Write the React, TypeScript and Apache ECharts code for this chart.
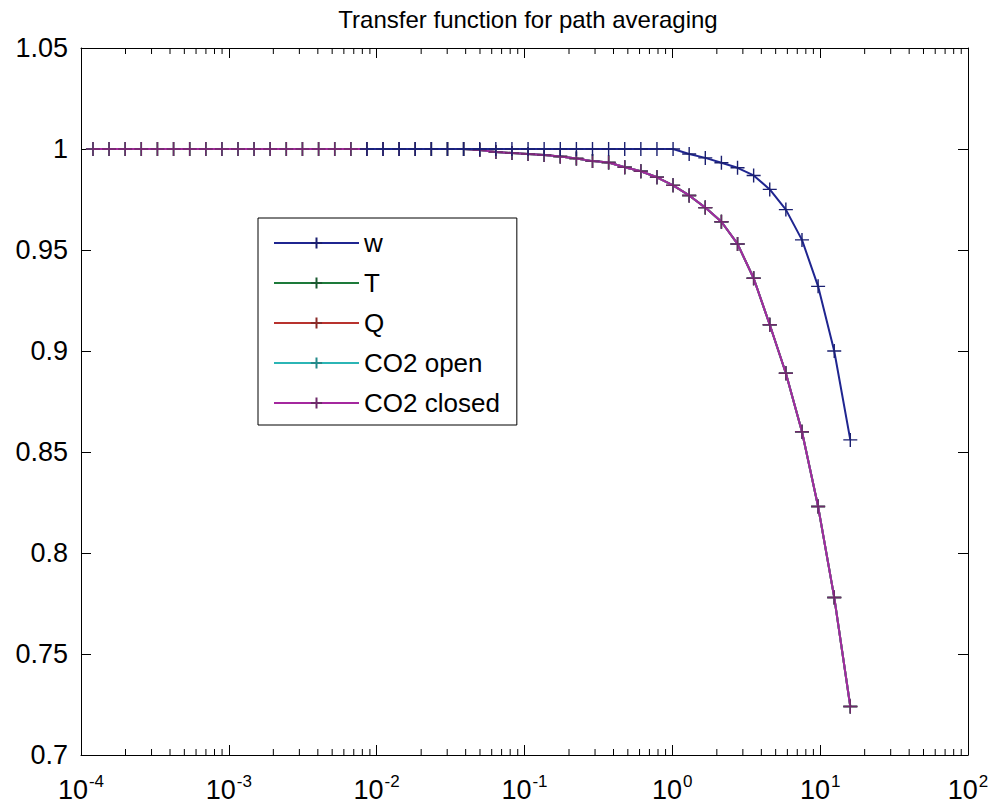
import React, { useEffect, useRef } from "react";
import * as echarts from "echarts";

const freqs = [
  0.0001205, 0.0001549, 0.0001991, 0.0002559, 0.0003289, 0.0004227, 0.0005433, 0.0006982,
  0.0008974, 0.001153, 0.001483, 0.001905, 0.002449, 0.003148, 0.004046, 0.0052,
  0.006683, 0.00859, 0.01104, 0.01419, 0.01824, 0.02344, 0.03013, 0.03873,
  0.04977, 0.06397, 0.08222, 0.1057, 0.1358, 0.1746, 0.2244, 0.2884,
  0.3707, 0.4764, 0.6124, 0.787, 1.0116, 1.3, 1.671, 2.148,
  2.761, 3.548, 4.56, 5.861, 7.534, 9.683, 12.45, 15.99,
];

// w starts at the 18th frequency
const wStart = 17;
const wVals = [
  1, 1, 1, 1, 1, 1, 1, 1, 1, 1,
  1, 1, 1, 1, 1, 1, 1, 1, 1, 1,
  0.9975, 0.9956, 0.9932, 0.9907, 0.9869, 0.98, 0.97, 0.955, 0.932, 0.9, 0.856,
];

// CO2 closed (drawn on top; T, Q and CO2 open lie beneath it)
const closedVals = [
  1, 1, 1, 1, 1, 1, 1, 1, 1, 1, 1, 1,
  1, 1, 1, 1, 1, 1, 1, 1, 1, 1, 1, 1,
  0.9995, 0.9985, 0.998, 0.9975, 0.997, 0.9963, 0.9953, 0.994, 0.9933, 0.991, 0.989, 0.986,
  0.982, 0.977, 0.971, 0.964, 0.953, 0.936, 0.913, 0.889, 0.86, 0.823, 0.778, 0.724,
];
const tVals = closedVals;
const qVals = closedVals;
const openVals = closedVals;

const seriesNames = ["w", "T", "Q", "CO2 open", "CO2 closed"];
const seriesColors = ["#1f2590", "#1d7a3a", "#b8322e", "#2bb5b5", "#a4289e"];
const markerColors = ["#1a1f70", "#1a5a30", "#8a2a28", "#238a8a", "#6e2a6a"];

const yTicks = [0.7, 0.75, 0.8, 0.85, 0.9, 0.95, 1, 1.05];
const xMinorTicks = [
  2e-4, 3e-4, 4e-4, 5e-4, 6e-4, 7e-4, 8e-4, 9e-4,
  2e-3, 3e-3, 4e-3, 5e-3, 6e-3, 7e-3, 8e-3, 9e-3,
  2e-2, 3e-2, 4e-2, 5e-2, 6e-2, 7e-2, 8e-2, 9e-2,
  0.2, 0.3, 0.4, 0.5, 0.6, 0.7, 0.8, 0.9,
  2, 3, 4, 5, 6, 7, 8, 9,
  20, 30, 40, 50, 60, 70, 80, 90,
];

const FONT = "'Liberation Sans', Arial, Helvetica, sans-serif";
const PLUS = "path://M5,0V10M0,5H10";

export default function App() {
  const ref = useRef<HTMLDivElement>(null);

  useEffect(() => {
    if (!ref.current) return;
    const chart = echarts.init(ref.current, undefined, { renderer: "svg" });

    const wData = wVals.map((v, i) => [freqs[wStart + i], v]);
    const pairs = (vals: number[]) => vals.map((v, i) => [freqs[i], v]);
    const allData = [wData, pairs(tVals), pairs(qVals), pairs(openVals), pairs(closedVals)];

    const lineSeries = seriesNames.map((name, i) => ({
      name,
      type: "line",
      data: allData[i],
      xAxisIndex: 0,
      yAxisIndex: 0,
      symbol: PLUS,
      symbolSize: 14,
      showAllSymbol: true,
      z: i === 0 ? 6 : 2 + i * 0.1,
      lineStyle: { color: seriesColors[i], width: 2 },
      itemStyle: { color: seriesColors[i], borderColor: markerColors[i], borderWidth: 1.4 },
      emphasis: { disabled: true },
    }));

    const yMin = yTicks[0];
    const yMax = yTicks[yTicks.length - 1];

    const minorSeries = {
      type: "custom",
      silent: true,
      clip: false,
      xAxisIndex: 0,
      yAxisIndex: 0,
      z: 10,
      data: xMinorTicks.map((v) => [v, yMin]),
      renderItem: (_p: any, api: any) => {
        const x = api.value(0);
        const b = api.coord([x, yMin]);
        const t = api.coord([x, yMax]);
        return {
          type: "group",
          children: [
            { type: "line", shape: { x1: b[0], y1: b[1], x2: b[0], y2: b[1] - 6 }, style: { stroke: "#000", lineWidth: 1 } },
            { type: "line", shape: { x1: t[0], y1: t[1], x2: t[0], y2: t[1] + 6 }, style: { stroke: "#000", lineWidth: 1 } },
          ],
        };
      },
    };

    const axisCommon = {
      axisLine: { show: true, onZero: false, lineStyle: { color: "#000", width: 1 } },
      splitLine: { show: false },
    };

    chart.setOption({
      animation: false,
      backgroundColor: "#fff",
      title: {
        text: "Transfer function for path averaging",
        left: 523,
        textAlign: "center",
        top: 2,
        textStyle: { fontFamily: FONT, fontSize: 24, fontWeight: "normal", color: "#000" },
      },
      legend: {
        orient: "vertical",
        left: 258,
        top: 218,
        data: seriesNames,
        itemWidth: 85,
        itemHeight: 14,
        itemGap: 14,
        padding: [12, 17, 9, 15],
        borderColor: "#000",
        borderWidth: 1,
        backgroundColor: "#fff",
        textStyle: { fontFamily: FONT, fontSize: 26, lineHeight: 26, color: "#000" },
        selectedMode: false,
      },
      grid: { left: 81, top: 48, right: 27, bottom: 48, outerBoundsMode: "none", containLabel: false },
      xAxis: [
        {
          type: "log",
          logBase: 10,
          min: 1e-4,
          max: 1e2,
          splitNumber: 6,
          position: "bottom",
          ...axisCommon,
          axisTick: { show: true, inside: true, length: 10, lineStyle: { color: "#000" } },
          axisLabel: {
            margin: 18,
            formatter: (v: number) => `{b|10}{s|${Math.round(Math.log10(v))}}`,
            rich: {
              b: { fontFamily: FONT, fontSize: 27, color: "#000", lineHeight: 30, verticalAlign: "bottom" },
              s: { fontFamily: FONT, fontSize: 17, color: "#000", lineHeight: 30, verticalAlign: "top", padding: [0, 0, 12, 1] },
            },
          },
        },
        {
          type: "log",
          logBase: 10,
          min: 1e-4,
          max: 1e2,
          splitNumber: 6,
          position: "top",
          ...axisCommon,
          axisTick: { show: true, inside: true, length: 10, lineStyle: { color: "#000" } },
          axisLabel: { show: false },
        },
      ],
      yAxis: [
        {
          type: "value",
          min: yMin,
          max: yMax,
          interval: 0.05,
          position: "left",
          ...axisCommon,
          axisTick: { show: true, inside: true, length: 10, lineStyle: { color: "#000" } },
          axisLabel: {
            margin: 13,
            fontFamily: FONT,
            fontSize: 27,
            color: "#000",
            formatter: (v: number) => String(+v.toFixed(2)),
          },
        },
        {
          type: "value",
          min: yMin,
          max: yMax,
          interval: 0.05,
          position: "right",
          ...axisCommon,
          axisTick: { show: true, inside: true, length: 10, lineStyle: { color: "#000" } },
          axisLabel: { show: false },
        },
      ],
      series: [...lineSeries, minorSeries],
    });

    return () => chart.dispose();
  }, []);

  return (
    <div
      ref={ref}
      style={{ position: "absolute", left: 0, top: 0, width: 995, height: 803, background: "#fff" }}
    />
  );
}
